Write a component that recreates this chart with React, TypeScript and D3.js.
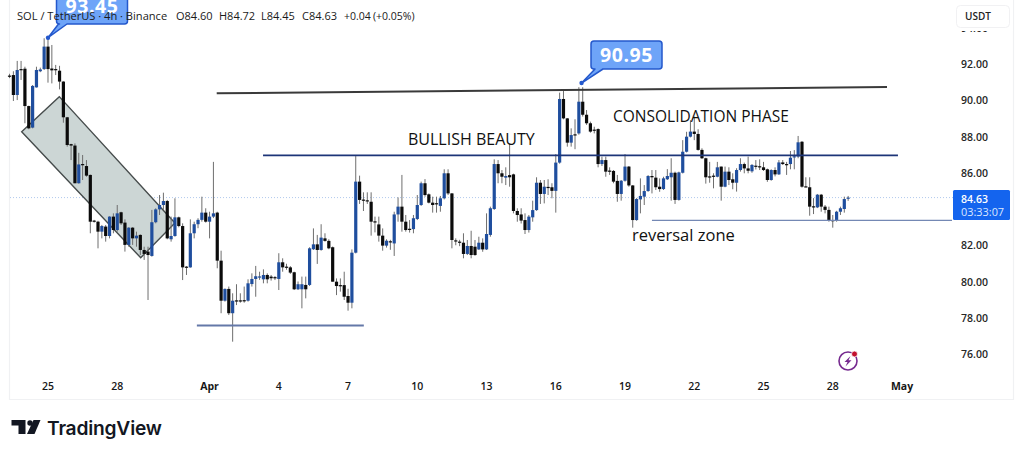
import * as d3 from 'd3';
import { useRef, useEffect } from 'react';

// 4h candles, oldest first
const opens = [
  91.36,91.39,90.29,91.72,91.74,89.68,88.49,90.71,91.6,91.72,
  92.96,91.75,91.72,91.63,91.03,89.06,87.58,87.5,85.42,86.48,
  86.37,85.88,83.36,83.3,82.75,83.03,82.51,83.58,82.84,83.82,
  83.25,82.02,82.97,82.38,82.57,81.74,81.65,81.41,83.27,83.98,
  84.22,84.44,82.33,82.51,83.54,83.06,80.82,80.78,82.66,83.16,
  83.4,83.8,83.3,83.58,83.8,81.15,78.94,79.59,78.25,78.96,
  78.96,78.97,78.94,79.86,80.14,80.22,80.12,80.36,80.27,80.24,
  80.14,81.06,80.82,80.78,80.51,79.57,79.57,79.81,79.81,81.78,
  82.05,81.74,82.38,82.24,81.89,79.99,79.8,79.8,79.2,78.83,
  81.59,85.51,84.52,84.48,84.4,83.32,83.15,82.53,81.98,82.22,
  82.1,83.7,84.13,83.3,82.91,82.89,83.45,84.22,85.42,84.81,
  84.35,84.32,84.17,84.59,85.97,84.86,82.27,82.2,82.14,81.52,
  81.96,81.92,81.77,82.14,81.77,82.57,84.0,86.48,85.97,85.73,
  85.87,85.91,83.89,83.7,83.39,82.84,83.54,83.94,85.45,84.83,
  85.22,85.2,85.0,86.56,90.07,89.0,87.66,88.12,88.17,89.92,
  89.2,88.73,88.38,88.41,86.48,86.7,86.12,86.1,85.55,84.83,
  85.56,86.34,85.3,83.39,84.53,84.68,84.99,85.82,85.73,85.23,
  85.1,85.64,85.75,86.0,84.5,86.0,87.16,87.99,88.27,88.14,
  87.26,86.8,85.8,85.84,85.78,86.34,85.23,86.06,85.64,85.45,
  86.15,86.48,86.24,86.08,86.39,86.36,86.3,86.19,85.6,86.15,
  85.91,86.57,86.48,86.48,86.87,86.89,87.71,85.25,85.2,84.15,
  84.09,84.79,84.13,83.95,83.39,83.39,83.85,84.0,84.6,
];
const highs = [
  91.46,91.6,92.17,92.17,91.85,89.7,90.84,91.85,91.8,93.42,
  93.45,93.05,91.95,91.9,91.05,89.08,87.6,87.62,87.1,86.98,
  86.7,85.9,83.4,83.35,83.12,83.12,83.6,83.76,84.22,83.85,
  83.43,83.0,83.0,82.75,82.6,81.92,81.92,83.95,84.04,84.77,
  84.9,84.5,83.58,84.59,83.58,83.21,80.85,83.43,83.3,83.49,
  84.68,84.04,83.85,86.6,83.85,81.7,79.62,79.72,79.35,79.85,
  79.35,79.72,80.12,80.45,80.86,80.54,80.67,80.45,80.36,80.3,
  81.56,81.28,80.98,80.85,80.54,80.0,80.27,80.27,81.89,82.93,
  82.57,83.16,82.66,82.33,81.93,80.17,80.17,80.54,79.6,81.77,
  86.92,85.84,84.92,84.92,84.92,83.58,83.58,82.93,82.33,82.3,
  83.85,84.64,85.88,83.67,83.39,83.67,84.77,85.51,85.65,84.86,
  84.68,84.68,84.72,86.19,86.19,84.88,82.38,82.3,82.66,82.29,
  82.8,82.29,82.47,82.38,83.76,84.13,86.74,86.7,86.15,86.3,
  87.62,85.95,84.04,84.04,83.76,83.67,84.46,85.75,85.6,85.6,
  85.64,85.42,87.03,90.42,90.57,89.02,88.45,88.95,90.72,90.72,
  89.46,88.82,88.54,88.45,86.89,86.89,86.3,86.15,85.88,85.6,
  87.03,86.37,85.32,84.6,85.69,85.32,85.87,86.15,86.15,85.69,
  85.78,86.2,86.8,86.06,86.06,87.8,88.26,88.9,89.1,88.4,
  87.35,86.83,86.6,85.97,86.6,86.34,86.34,86.3,85.97,86.25,
  86.8,86.56,86.89,86.48,86.7,86.74,86.6,86.23,86.19,86.3,
  86.7,86.7,86.6,87.2,87.25,88.03,87.75,85.75,85.75,84.6,
  84.83,84.83,84.22,84.13,83.67,83.9,84.13,84.68,84.72,
];
const lows = [
  91.22,89.96,90.01,91.12,88.73,88.4,88.45,90.7,91.55,91.67,
  90.97,90.93,91.39,90.6,88.76,87.44,86.7,85.42,85.4,85.6,
  85.78,82.66,83.25,81.83,82.38,82.2,82.38,82.66,82.75,83.12,
  81.65,81.92,82.02,81.92,81.46,81.19,78.98,81.37,83.21,83.67,
  83.95,82.33,82.2,82.47,82.99,80.08,80.36,80.76,82.38,82.94,
  83.3,83.25,82.38,83.5,80.73,78.25,78.89,78.15,76.68,78.7,
  78.83,78.83,78.89,79.72,79.16,80.09,79.9,79.9,80.05,80.08,
  79.53,80.54,80.65,80.42,79.53,79.53,78.52,79.07,79.75,81.74,
  80.97,81.7,82.2,81.78,79.99,79.25,79.44,78.98,78.39,78.52,
  81.55,84.28,83.89,84.28,82.53,82.71,82.2,81.7,81.87,81.75,
  81.41,83.3,82.75,82.75,82.7,82.66,83.39,84.17,84.68,84.31,
  83.8,83.8,83.85,84.53,84.77,81.83,82.0,81.95,81.28,81.46,
  81.28,81.42,81.74,81.64,81.74,82.47,83.95,85.42,85.42,85.32,
  85.23,83.76,83.3,83.2,82.62,82.7,83.3,83.9,84.28,84.31,
  84.77,84.59,83.8,86.5,88.95,87.44,87.44,87.3,88.1,89.1,
  88.64,88.21,88.17,86.3,86.37,85.78,85.88,85.42,84.4,84.46,
  85.51,85.23,82.97,83.35,83.76,84.22,84.95,84.86,85.05,84.95,
  85.05,85.6,84.46,84.28,84.46,85.96,87.12,87.95,87.8,87.22,
  86.76,85.4,85.45,85.14,85.75,84.46,85.2,85.32,85.09,84.96,
  86.06,85.97,85.97,86.0,86.18,86.15,86.1,85.5,85.56,85.8,
  85.88,86.43,85.88,86.19,86.19,86.8,85.18,85.2,83.63,83.72,
  84.05,83.85,83.76,83.3,82.97,83.3,83.67,83.8,84.45,
];
const closes = [
  91.32,90.29,91.67,91.68,89.68,88.45,90.79,91.67,91.7,92.96,
  91.72,91.65,91.68,91.03,89.06,87.53,87.5,85.42,86.46,86.44,
  85.84,83.3,83.32,82.75,83.06,82.51,83.58,82.84,83.76,83.21,
  82.02,82.97,82.38,82.53,81.74,81.52,81.46,83.27,83.98,84.22,
  84.44,82.38,82.51,83.54,83.06,80.78,80.78,82.66,83.16,83.4,
  83.8,83.3,83.58,83.76,81.15,78.94,79.59,78.25,78.94,78.92,
  78.92,78.93,79.9,80.14,80.29,80.28,80.36,80.12,80.18,80.2,
  81.06,80.78,80.78,80.49,79.57,79.85,79.85,79.57,81.83,82.05,
  81.74,82.42,82.24,81.83,79.99,79.75,79.74,79.16,78.83,81.59,
  85.51,84.5,84.48,84.44,83.3,83.28,82.53,81.98,82.25,82.18,
  83.7,84.13,83.3,82.84,82.87,83.49,84.22,85.42,84.77,84.35,
  84.22,84.28,84.59,85.97,84.86,82.29,82.23,82.16,81.52,81.96,
  81.46,81.46,82.14,81.77,82.62,84.04,86.48,85.97,85.78,85.82,
  85.75,83.89,83.67,83.36,82.84,83.58,83.94,85.45,84.83,85.23,
  85.18,85.0,86.56,90.07,89.0,87.66,88.08,88.08,89.92,89.2,
  88.73,88.27,88.34,86.48,86.7,86.06,86.08,85.51,84.83,85.56,
  86.34,85.3,83.39,84.55,84.72,84.99,85.82,85.75,85.2,85.1,
  85.69,85.82,86.0,84.5,86.02,87.16,87.99,88.27,88.14,87.26,
  86.8,85.75,85.76,85.8,86.3,85.23,86.06,85.6,85.45,86.15,
  86.48,86.24,86.11,86.43,86.35,86.32,86.15,85.6,86.15,85.91,
  86.57,86.48,86.44,86.83,86.91,87.68,85.23,85.21,84.13,84.11,
  84.79,84.13,83.95,83.34,83.34,83.85,84.04,84.55,84.63,
];

const dateLabels = ['25', '28', 'Apr', '4', '7', '10', '13', '16', '19', '22', '25', '28', 'May'];
const dateBars = [10, 28, 52, 70, 88, 106, 124, 142, 160, 178, 196, 214, 232];
// 84.00 is hidden behind the price tag, 94.00 mostly behind the currency box
const priceTicks = [76, 78, 80, 82, 86, 88, 90, 92, 94];

// drawings in [bar, price]
const channel: [number, number][] = [[3.16, 88.26], [12.94, 90.2], [43.0, 83.23], [34.1, 81.31]];
const resistance: [number, number][] = [[53.86, 90.38], [228.1, 90.73]];
const midLine: [number, number][] = [[65.9, 86.96], [230.95, 86.96]];
const supportLow: [number, number][] = [[48.7, 77.57], [92.1, 77.57]];
const reversalLine: [number, number][] = [[167, 83.37], [245, 83.37]];
const lastPrice = 84.63;

const FONT = '"Open Sans", "Noto Sans", sans-serif';
const UP = '#1f4e9e';
const DOWN = '#0b0b0b';
const WICK = '#6e6e6e';

export default function App() {
  const svgRef = useRef<SVGSVGElement>(null);

  useEffect(() => {
    if (!svgRef.current) return;
    const svg = d3.select(svgRef.current);
    svg.selectAll('*').remove();

    const x = d3.scaleLinear().domain([0, 232]).range([9.53, 902]);
    const y = d3.scaleLinear().domain([76, 92]).range([354, 64]);
    const line = d3.line<[number, number]>().x(d => x(d[0])).y(d => y(d[1]));

    svg.append('rect').attr('width', 1024).attr('height', 456).attr('fill', '#fff');

    // panel edges
    svg.append('path').attr('d', 'M9.5,0V399.5H1013.5V0').attr('fill', 'none').attr('stroke', '#f0f1f3').attr('stroke-width', 1.2);

    // last price dotted line
    svg.append('line')
      .attr('x1', 10).attr('x2', 953)
      .attr('y1', y(lastPrice)).attr('y2', y(lastPrice))
      .attr('stroke', '#9dbbe8').attr('stroke-width', 0.8).attr('stroke-dasharray', '1 2');

    // channel box
    svg.append('path')
      .attr('d', line(channel) + 'Z')
      .attr('fill', '#ccd6d5')
      .attr('stroke', '#464c4c')
      .attr('stroke-width', 1.4);

    // candles
    const candles = opens.map((o, i) => ({ i, o, h: highs[i], l: lows[i], c: closes[i] }));
    const g = svg.append('g');
    g.selectAll('.wick').data(candles).enter().append('line')
      .attr('class', 'wick')
      .attr('x1', d => x(d.i)).attr('x2', d => x(d.i))
      .attr('y1', d => y(d.h)).attr('y2', d => y(d.l))
      .attr('stroke', WICK).attr('stroke-width', 1);
    g.selectAll('.body').data(candles).enter().append('rect')
      .attr('class', 'body')
      .attr('x', d => x(d.i) - 1.6)
      .attr('width', 3.2)
      .attr('y', d => y(Math.max(d.o, d.c)))
      .attr('height', d => Math.max(1.2, Math.abs(y(d.o) - y(d.c))))
      .attr('fill', d => d.c >= d.o ? UP : DOWN);

    // trend lines
    const drawLine = (pts: [number, number][], color: string, w: number) => {
      svg.append('path').attr('d', line(pts)).attr('fill', 'none').attr('stroke', color).attr('stroke-width', w);
    };
    drawLine(resistance, '#3a3a3a', 2);
    drawLine(midLine, '#1d3578', 1.6);
    drawLine(supportLow, '#6478a8', 2);
    drawLine(reversalLine, '#7488b4', 1.2);

    // callouts
    const callout = (bar: number, price: number, left: number, top: number, right: number, bottom: number, b0: number, b1: number, label: string, tx: number, ty: number) => {
      const px = x(bar), py = y(price), r = 3;
      svg.append('path')
        .attr('d', `M${left + r},${top}H${right - r}Q${right},${top} ${right},${top + r}V${bottom - r}Q${right},${bottom} ${right - r},${bottom}H${b1}L${px},${py}L${b0},${bottom}H${left + r}Q${left},${bottom} ${left},${bottom - r}V${top + r}Q${left},${top} ${left + r},${top}Z`)
        .attr('fill', '#6ea4f8').attr('stroke', '#2458cc').attr('stroke-width', 1.5).attr('stroke-linejoin', 'round');
      svg.append('circle').attr('cx', px).attr('cy', py).attr('r', 2.2).attr('fill', '#2458cc');
      svg.append('text').attr('x', tx).attr('y', ty).attr('text-anchor', 'middle')
        .attr('font-family', FONT).attr('font-size', 19.5).attr('font-weight', 700)
        .attr('letter-spacing', 0.6).attr('fill', '#fff').text(label);
    };
    callout(10, 93.45, 56.5, -8, 127.5, 24, 58.5, 67, '93.45', 92, 13);
    callout(148.7, 90.95, 591, 41, 662, 69, 595, 603, '90.95', 626.5, 62);

    // header
    const legend: [number, string, number][] = [
      [17, 'SOL / TetherUS · 4h · Binance', 11.1], [176, 'O84.60', 11], [219, 'H84.72', 11],
      [261, 'L84.45', 11], [302, 'C84.63', 11], [344, '+0.04', 10.5], [373, '(+0.05%)', 10.5],
    ];
    svg.append('g').selectAll('text').data(legend).enter().append('text')
      .attr('x', d => d[0]).attr('y', 19.5)
      .attr('font-family', FONT).attr('font-size', d => d[2]).attr('fill', '#1a1a1a')
      .text(d => d[1]);

    // chart labels
    const labels: [number, number, string, number][] = [
      [408, 144.5, 'BULLISH BEAUTY', 16],
      [613, 121.5, 'CONSOLIDATION PHASE', 15.5],
      [632, 241, 'reversal zone', 16.5],
    ];
    svg.append('g').selectAll('text').data(labels).enter().append('text')
      .attr('x', d => d[0]).attr('y', d => d[1])
      .attr('font-family', FONT).attr('font-size', d => d[3]).attr('fill', '#111')
      .text(d => d[2]);

    // date axis
    svg.append('g').selectAll('text').data(dateLabels).enter().append('text')
      .attr('x', (_, i) => x(dateBars[i])).attr('y', 390)
      .attr('text-anchor', 'middle')
      .attr('font-family', FONT).attr('font-size', 10.5)
      .attr('font-weight', d => (d === 'Apr' || d === 'May') ? 700 : 600)
      .attr('fill', '#161616')
      .text(d => d);

    // price axis
    svg.append('g').selectAll('text').data(priceTicks).enter().append('text')
      .attr('x', 961).attr('y', d => y(d) + 4)
      .attr('font-family', FONT).attr('font-size', 10.5).attr('font-weight', 600).attr('fill', '#262626')
      .text(d => d3.format('.2f')(d));

    // currency box sits on top of the clipped 94.00
    svg.append('rect').attr('x', 953).attr('y', 0).attr('width', 60).attr('height', 31).attr('fill', '#fff');
    svg.append('rect').attr('x', 956.5).attr('y', 5.5).attr('width', 53).attr('height', 22).attr('rx', 4)
      .attr('fill', '#fff').attr('stroke', '#f1f1f3');
    svg.append('text').attr('x', 965).attr('y', 20).attr('font-family', FONT)
      .attr('font-size', 10).attr('font-weight', 600).attr('fill', '#222').text('USDT');

    // price tag
    svg.append('rect').attr('x', 953).attr('y', 190).attr('width', 57).attr('height', 30).attr('rx', 1.5).attr('fill', '#1464ee');
    svg.append('text').attr('x', 961).attr('y', 202.5).attr('font-family', FONT)
      .attr('font-size', 10.5).attr('font-weight', 600).attr('fill', '#fff').text(lastPrice.toFixed(2));
    svg.append('text').attr('x', 961).attr('y', 216).attr('font-family', FONT)
      .attr('font-size', 10.9).attr('font-weight', 500).attr('fill', '#dbe7ff').text('03:33:07');

    // lightning badge
    const badge = svg.append('g').attr('transform', 'translate(848,361)');
    badge.append('circle').attr('r', 9).attr('fill', 'none').attr('stroke', '#762a8f').attr('stroke-width', 1.6);
    badge.append('path').attr('d', 'M2.5,-5L-3.5,1H-0.5L-2.5,5.5L3.5,-0.8H0.5Z').attr('fill', '#762a8f');
    badge.append('circle').attr('cx', 6.5).attr('cy', -7).attr('r', 3).attr('fill', '#c2102e').attr('stroke', '#fff').attr('stroke-width', 0.8);

    // TradingView logo
    const logo = svg.append('g').attr('fill', '#131722');
    logo.append('path').attr('d', 'M11.5,420H25.5V434H18.5V425.5H11.5Z');
    logo.append('circle').attr('cx', 30).attr('cy', 423).attr('r', 2.7);
    logo.append('path').attr('d', 'M33.5,420H40.5L34.5,434H27Z');
    logo.append('text').attr('x', 47).attr('y', 434.5)
      .attr('font-family', '"Inter", "Noto Sans", sans-serif').attr('font-size', 19.2).attr('font-weight', 600)
      .attr('letter-spacing', -0.2).text('TradingView');
  }, []);

  return <svg ref={svgRef} width={1024} height={456} style={{ position: 'absolute', left: 0, top: 0, display: 'block' }} />;
}
